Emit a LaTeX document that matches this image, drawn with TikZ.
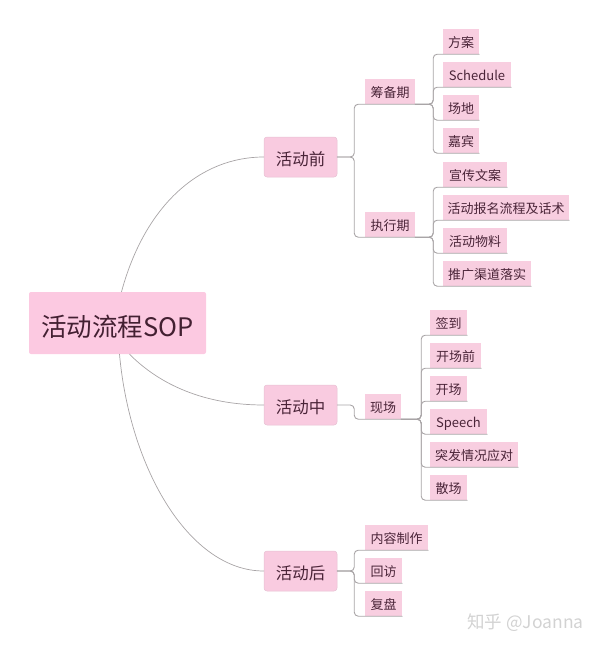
\documentclass[tikz,border=0pt]{standalone}
\usepackage{fontspec}
\setmainfont{Noto Sans CJK SC}
\definecolor{pinkroot}{HTML}{FCC9E1}
\definecolor{pinkmid}{HTML}{F9CBE0}
\definecolor{pinkleaf}{HTML}{F8CEE0}
\definecolor{inkdark}{HTML}{4A2438}
\definecolor{linegray}{HTML}{A8A4A6}
\tikzset{
	rootnode/.style={fill=pinkroot,rounded corners=2pt,inner sep=0pt,minimum width=177pt,minimum height=62pt,text height=28pt,text depth=1.2pt,text=inkdark!90!black,font=\fontsize{25.5}{26}\selectfont},
	midnode/.style={fill=pinkmid,draw=pinkmid!85!gray,line width=0.5pt,rounded corners=3pt,inner sep=0pt,minimum width=73pt,minimum height=40pt,text height=19pt,text depth=1.4pt,text=inkdark,font=\fontsize{16.5}{17}\selectfont},
	leafnode/.style={fill=pinkleaf,inner sep=0pt,minimum height=25pt,text height=13pt,text depth=2pt,text=inkdark,font=\fontsize{13}{13}\selectfont},
	curveline/.style={draw=linegray,line width=0.7pt},
	busline/.style={draw=linegray,line width=0.9pt,rounded corners=4pt}
}
\begin{document}
\begin{tikzpicture}[x=1pt,y=-1pt,line join=round,line cap=round]
	\useasboundingbox (0,0) rectangle (600,648);
	\node[rootnode] (root) at (117.5,323) {活动流程SOP};
	\node[midnode] (qian) at (300.5,157) {活动前};
	\node[midnode] (zhong) at (300.5,405) {活动中};
	\node[midnode] (hou) at (300.5,571) {活动后};
	% curves from the root
	\draw[curveline] ([xshift=4pt]root.north) .. controls (145,205) and (200,157) .. (qian.west);
	\draw[curveline] ([xshift=12pt]root.south) .. controls (160,385) and (205,405) .. (zhong.west);
	\draw[curveline] ([xshift=2pt]root.south) .. controls (130,470) and (190,571) .. (hou.west);
	% second level
	\foreach \x/\y/\w/\nm/\txt in {
		390/91.5/50/chou/筹备期,390/224.5/50/zhi/执行期,
		383/406.5/36/xian/现场}
	\node[leafnode,minimum width=\w pt] (\nm) at (\x,\y) {\txt};
	% leaves
	\foreach \x/\y/\w/\nm/\txt in {
		461/41.5/36/a/方案,477/74.5/68/b/Schedule,461/107.5/36/c/场地,461/140.5/36/d/嘉宾,
		475/174.5/64/e/宣传文案,506/207.5/126/f/活动报名流程及话术,475/240.5/64/g/活动物料,487/273.5/88/h/推广渠道落实,
		448.5/322.5/37/i/签到,455.5/355.5/51/j/开场前,448.5/388.5/37/k/开场,458.5/421.5/57/l/Speech,474/454.5/88/m/突发情况应对,448.5/487.5/37/n/散场,
		396.5/537.5/63/o/内容制作,383.5/570.5/37/p/回访,383.5/603.5/37/q/复盘}
	\node[leafnode,minimum width=\w pt] (\nm) at (\x,\y) {\txt};
	% connectors
	\foreach \from/\to in {qian/chou,qian/zhi,zhong/xian,hou/o,hou/p,hou/q}
	\draw[busline] (\from.east) -- ++(17,0) |- (\to.south west) -- (\to.south east);
	\foreach \to in {a,b,c,d}
	\draw[busline] (chou.south east) -- ++(18,0) |- (\to.south west) -- (\to.south east);
	\foreach \to in {e,f,g,h}
	\draw[busline] (zhi.south east) -- ++(18,0) |- (\to.south west) -- (\to.south east);
	\foreach \to in {i,j,k,l,m,n}
	\draw[busline] (xian.south east) -- ++(20,0) |- (\to.south west) -- (\to.south east);
	% watermark
	\node[text=gray!35,inner sep=0pt,font=\fontsize{17.5}{18}\selectfont] (mark) at (525.5,623) {知乎 @Joanna};
\end{tikzpicture}
\end{document}
